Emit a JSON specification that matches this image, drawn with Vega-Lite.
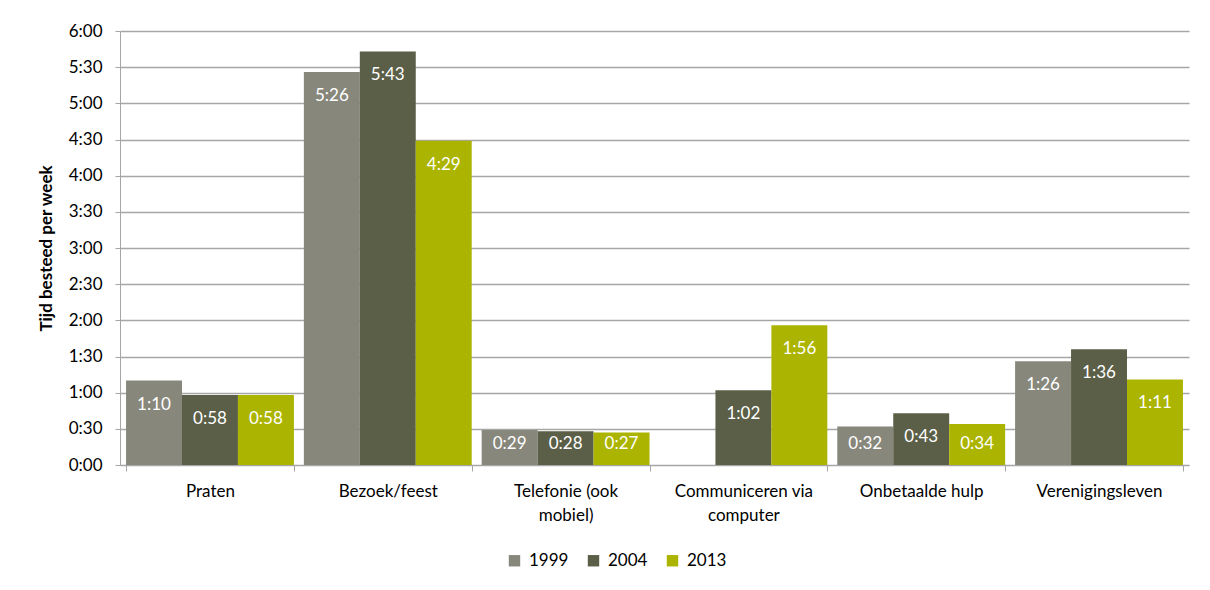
{
  "$schema": "https://vega.github.io/schema/vega-lite/v6.json",
  "width": 1069,
  "height": 434,
  "autosize": "none",
  "padding": {"left": 120, "top": 31, "right": 21, "bottom": 125},
  "background": "white",
  "config": {
    "view": {"stroke": null},
    "font": "Lato",
    "axis": {"labelFont": "Lato", "titleFont": "Lato"},
    "legend": {"labelFont": "Lato"}
  },
  "data": {
    "values": [
      {"cat": "Praten", "year": "1999", "min": 70, "label": "1:10"},
      {"cat": "Praten", "year": "2004", "min": 58, "label": "0:58"},
      {"cat": "Praten", "year": "2013", "min": 58, "label": "0:58"},
      {"cat": "Bezoek/feest", "year": "1999", "min": 326, "label": "5:26"},
      {"cat": "Bezoek/feest", "year": "2004", "min": 343, "label": "5:43"},
      {"cat": "Bezoek/feest", "year": "2013", "min": 269, "label": "4:29"},
      {"cat": "Telefonie (ook mobiel)", "year": "1999", "min": 29, "label": "0:29"},
      {"cat": "Telefonie (ook mobiel)", "year": "2004", "min": 28, "label": "0:28"},
      {"cat": "Telefonie (ook mobiel)", "year": "2013", "min": 27, "label": "0:27"},
      {"cat": "Communiceren via computer", "year": "2004", "min": 62, "label": "1:02"},
      {"cat": "Communiceren via computer", "year": "2013", "min": 116, "label": "1:56"},
      {"cat": "Onbetaalde hulp", "year": "1999", "min": 32, "label": "0:32"},
      {"cat": "Onbetaalde hulp", "year": "2004", "min": 43, "label": "0:43"},
      {"cat": "Onbetaalde hulp", "year": "2013", "min": 34, "label": "0:34"},
      {"cat": "Verenigingsleven", "year": "1999", "min": 86, "label": "1:26"},
      {"cat": "Verenigingsleven", "year": "2004", "min": 96, "label": "1:36"},
      {"cat": "Verenigingsleven", "year": "2013", "min": 71, "label": "1:11"}
    ]
  },
  "encoding": {
    "x": {
      "field": "cat",
      "type": "nominal",
      "sort": ["Praten", "Bezoek/feest", "Telefonie (ook mobiel)", "Communiceren via computer", "Onbetaalde hulp", "Verenigingsleven"],
      "scale": {"paddingInner": 0.056, "paddingOuter": 0.034},
      "axis": {
        "title": null,
        "labelAngle": 0,
        "labelFontSize": 17,
        "labelColor": "#000000",
        "labelPadding": 12,
        "labelLineHeight": 24,
        "labelBaseline": "top",
        "labelExpr": "datum.value == 'Telefonie (ook mobiel)' ? ['Telefonie (ook', 'mobiel)'] : datum.value == 'Communiceren via computer' ? ['Communiceren via', 'computer'] : datum.value",
        "domainColor": "#a6a6a6",
        "tickColor": "#a6a6a6",
        "tickSize": 6,
        "tickBand": "extent",
        "grid": false
      }
    },
    "xOffset": {
      "field": "year",
      "type": "nominal",
      "scale": {"paddingInner": 0, "paddingOuter": 0}
    },
    "y": {
      "field": "min",
      "type": "quantitative",
      "scale": {"domain": [0, 360], "nice": false},
      "axis": {
        "title": "Tijd besteed per week",
        "titleFontSize": 17,
        "titleFontWeight": "bold",
        "titleColor": "#000000",
        "titlePadding": 13,
        "values": [0, 30, 60, 90, 120, 150, 180, 210, 240, 270, 300, 330, 360],
        "labelOverlap": false,
        "labelExpr": "floor(datum.value/60) + ':' + (datum.value % 60 < 10 ? '0' : '') + (datum.value % 60)",
        "labelFontSize": 17,
        "labelColor": "#000000",
        "labelPadding": 13,
        "tickSize": 5,
        "tickColor": "#a6a6a6",
        "domainColor": "#a6a6a6",
        "gridColor": "#a6a6a6",
        "gridWidth": 1.5
      }
    }
  },
  "layer": [
    {
      "mark": {"type": "bar"},
      "encoding": {
        "color": {
          "field": "year",
          "type": "nominal",
          "scale": {"domain": ["1999", "2004", "2013"], "range": ["#87877c", "#5b5f47", "#abb400"]},
          "legend": {
            "title": null,
            "orient": "none",
            "direction": "horizontal",
            "legendX": 386,
            "legendY": 521,
            "symbolType": "square",
            "symbolSize": 130,
            "symbolStrokeWidth": 0,
            "symbolOpacity": 1,
            "labelFontSize": 17,
            "labelColor": "#000000",
            "labelOffset": 6,
            "columnPadding": 16
          }
        }
      }
    },
    {
      "transform": [{"filter": "datum.min >= 37"}],
      "mark": {"type": "text", "color": "white", "fontSize": 17, "baseline": "middle", "dy": 24},
      "encoding": {
        "text": {"field": "label"}
      }
    },
    {
      "transform": [{"filter": "datum.min < 37"}],
      "mark": {"type": "text", "color": "white", "fontSize": 17, "baseline": "middle", "dy": -21},
      "encoding": {
        "y": {
          "datum": 0,
          "type": "quantitative",
          "axis": {
            "title": "Tijd besteed per week",
            "titleFontSize": 17,
            "titleFontWeight": "bold",
            "titleColor": "#000000",
            "titlePadding": 13,
            "values": [0, 30, 60, 90, 120, 150, 180, 210, 240, 270, 300, 330, 360],
            "labelOverlap": false,
            "labelExpr": "floor(datum.value/60) + ':' + (datum.value % 60 < 10 ? '0' : '') + (datum.value % 60)",
            "labelFontSize": 17,
            "labelColor": "#000000",
            "labelPadding": 13,
            "tickSize": 5,
            "tickColor": "#a6a6a6",
            "domainColor": "#a6a6a6",
            "gridColor": "#a6a6a6",
            "gridWidth": 1.5
          }
        },
        "text": {"field": "label"}
      }
    }
  ]
}
